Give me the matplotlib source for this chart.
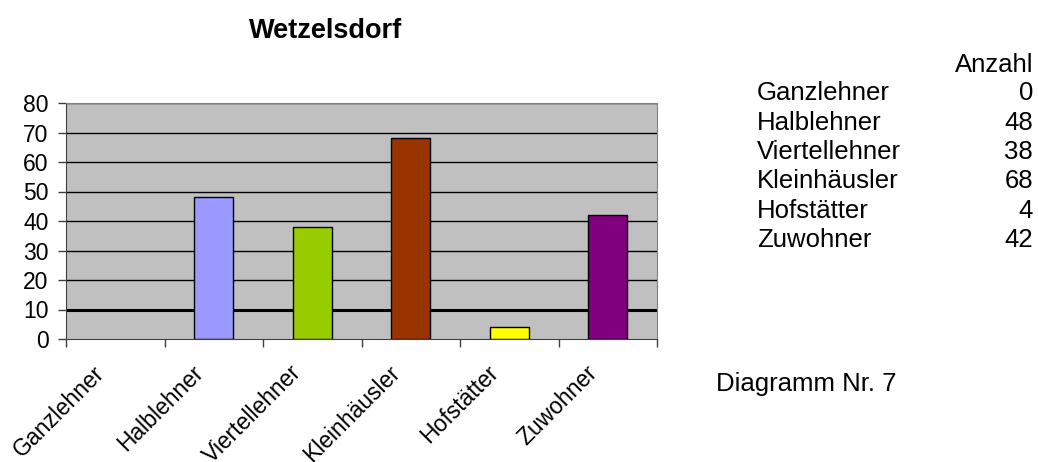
import matplotlib
matplotlib.use("Agg")
import matplotlib.pyplot as plt
import numpy as np

categories = ["Ganzlehner", "Halblehner", "Viertellehner", "Kleinhäusler", "Hofstätter", "Zuwohner"]
values = [0, 48, 38, 68, 4, 42]
colors = ["#9999FF", "#9999FF", "#99CC00", "#993300", "#FFFF00", "#800080"]
yticks = [0, 10, 20, 30, 40, 50, 60, 70, 80]
title = "Wetzelsdorf"
table_header = "Anzahl"
footer = "Diagramm Nr. 7"

plt.rcParams['font.family'] = ['Liberation Sans', 'DejaVu Sans']
FS = 16.5
FS_T = 18.5

W, H = 1038, 462
fig = plt.figure(figsize=(W/100, H/100), dpi=100)
ax = fig.add_axes([66/W, 1-339/H, (657-66)/W, (339-103)/H])
ax.set_facecolor("#C0C0C0")

x = np.arange(len(categories))
lws = [0 if v == 0 else 1.0 for v in values]
ax.bar(x, values, width=0.4, color=colors, edgecolor="black", linewidth=lws, zorder=2)
ax.set_xlim(-0.5, len(categories)-0.5)
ax.set_ylim(0, 80)

for v in yticks[1:]:
    ax.axhline(v, color="black", linewidth=2.2 if v == 10 else 1.0, zorder=1)

ax.set_yticks(yticks)
ax.set_yticklabels([str(v) for v in yticks], fontsize=FS)
ax.tick_params(axis='y', direction='out', length=6, width=1, color="#404040", pad=6.5)

ax.set_xticks(np.arange(len(categories)+1) - 0.5, minor=False)
ax.set_xticklabels([])
ax.tick_params(axis='x', direction='out', length=6, width=1, color="#404040")
for i, c in enumerate(categories):
    ax.annotate(c, xy=(i, 0), xycoords=('data', 'axes fraction'), xytext=(-16, -16),
                textcoords='offset points', rotation=45, ha='right', va='top',
                rotation_mode='anchor', fontsize=FS)

for s in ['top', 'right']:
    ax.spines[s].set_color("#808080")
ax.spines['left'].set_color("#404040")
ax.spines['bottom'].set_color("#404040")

fig.text(325.5/W, 1-31/H, title, fontsize=19.5, fontweight='bold', ha='center', va='center')

# table
fig.text(1033/W, 1-65/H, table_header, fontsize=FS_T, ha='right', va='center')
row_y = [93, 123, 152, 181, 211, 240]
for c, v, yy in zip(categories, values, row_y):
    fig.text(757/W, 1-yy/H, c, fontsize=FS_T, ha='left', va='center')
    fig.text(1033/W, 1-yy/H, str(v), fontsize=FS_T, ha='right', va='center')

fig.text(716/W, 1-384/H, footer, fontsize=FS_T, ha='left', va='center')

fig.savefig("out.png", dpi=100)
